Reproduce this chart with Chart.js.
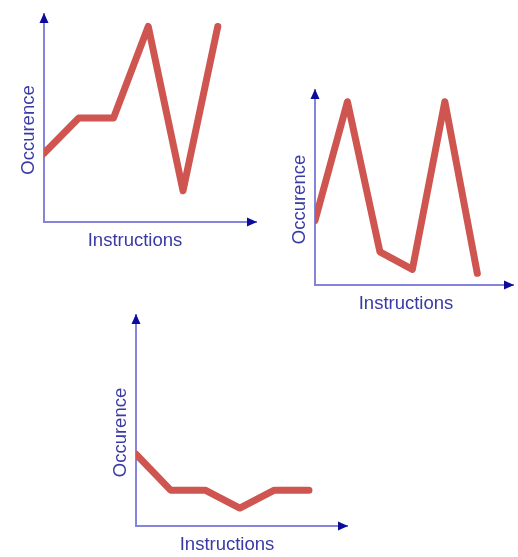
<!DOCTYPE html>
<html>
<head>
<meta charset="utf-8">
<script src="https://cdn.jsdelivr.net/npm/chart.js@4.4.0/dist/chart.umd.min.js"></script>
<style>
  body { margin: 0; background: #fff; width: 518px; height: 557px; position: relative; overflow: hidden; }
  .box { position: absolute; }
</style>
</head>
<body>
<div class="box" style="left:0;top:0;width:270px;height:260px"><canvas id="c1"></canvas></div>
<div class="box" style="left:270px;top:76px;width:248px;height:244px"><canvas id="c2"></canvas></div>
<div class="box" style="left:91px;top:301px;width:270px;height:256px"><canvas id="c3"></canvas></div>
<script>
// instruction index along x, occurrence (arbitrary units, axis top = 10)
const steps = [0, 1, 2, 3, 4, 5];
const occurTop = [3.3, 5.0, 5.0, 9.4, 1.5, 9.4];
const occurRight = [3.3, 9.4, 1.7, 0.8, 9.4, 0.6];
const occurBottom = [3.4, 1.7, 1.7, 0.85, 1.7, 1.7];

const xLabel = 'Instructions';
const yLabel = 'Occurence';

const lineColor = '#cf5550';
const axisColor = '#8484dc';
const arrowColor = '#0b0b9c';
const textColor = '#3a3aa6';

// arrowheads + axis titles
const axisDecor = {
    id: 'axisDecor',
    afterDraw(chart) {
        const ctx = chart.ctx;
        const a = chart.chartArea;
        ctx.save();
        ctx.fillStyle = arrowColor;
        // up arrow
        ctx.beginPath();
        ctx.moveTo(a.left, a.top - 1);
        ctx.lineTo(a.left - 4.5, a.top + 9);
        ctx.lineTo(a.left + 4.5, a.top + 9);
        ctx.closePath();
        ctx.fill();
        // right arrow
        ctx.beginPath();
        ctx.moveTo(a.right + 1, a.bottom);
        ctx.lineTo(a.right - 9, a.bottom - 4.5);
        ctx.lineTo(a.right - 9, a.bottom + 4.5);
        ctx.closePath();
        ctx.fill();

        ctx.fillStyle = textColor;
        ctx.font = '18.5px "Liberation Sans", Arial, sans-serif';
        ctx.textAlign = 'center';
        ctx.textBaseline = 'middle';
        ctx.fillText(xLabel, a.left + 91, a.bottom + 19);
        ctx.translate(a.left - 15, (a.top + a.bottom) / 2 + 12);
        ctx.rotate(-Math.PI / 2);
        ctx.fillText(yLabel, 0, 0);
        ctx.restore();
    }
};

function makeChart(id, values, pad) {
    const points = steps.map((s, i) => ({ x: s, y: values[i] }));
    return new Chart(document.getElementById(id), {
        type: 'line',
        data: {
            datasets: [{
                data: points,
                borderColor: lineColor,
                borderWidth: 7,
                borderJoinStyle: 'round',
                borderCapStyle: 'round',
                pointRadius: 0,
                tension: 0,
                clip: { left: 0, top: 10, right: 10, bottom: 10 }
            }]
        },
        options: {
            responsive: true,
            maintainAspectRatio: false,
            animation: false,
            layout: { padding: pad },
            plugins: { legend: { display: false }, tooltip: { enabled: false } },
            scales: {
                x: {
                    type: 'linear',
                    min: 0,
                    max: 6.1,
                    grid: { display: false, drawTicks: false },
                    border: { display: true, color: axisColor, width: 2 },
                    ticks: { display: false }
                },
                y: {
                    min: 0,
                    max: 10,
                    grid: { display: false, drawTicks: false },
                    border: { display: true, color: axisColor, width: 2 },
                    ticks: { display: false }
                }
            }
        },
        plugins: [axisDecor]
    });
}

makeChart('c1', occurTop, { left: 44, top: 14, right: 14, bottom: 38 });
makeChart('c2', occurRight, { left: 45, top: 14, right: 5, bottom: 35 });
makeChart('c3', occurBottom, { left: 45, top: 14, right: 14, bottom: 31 });
</script>
</body>
</html>
